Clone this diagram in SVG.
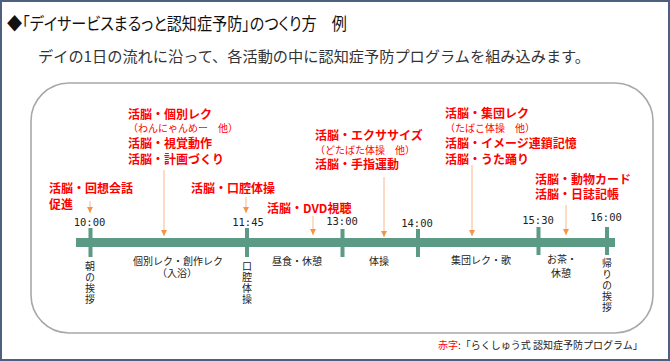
<svg xmlns="http://www.w3.org/2000/svg" width="670" height="361" viewBox="0 0 670 361">
<defs>
<marker id="ah" viewBox="0 0 10 10" refX="10" refY="5" markerWidth="6" markerHeight="6" orient="auto" markerUnits="userSpaceOnUse">
<path d="M0,0 L10,5 L0,10 Z" fill="#f39548"/>
</marker>
<style>
.red{font-family:"Noto Sans CJK JP","Noto Sans",sans-serif;font-size:12px;font-weight:bold;fill:#ff0000}
.reds{font-size:10px;font-weight:normal}
.lbl{font-family:"Noto Sans CJK JP","Noto Sans",sans-serif;font-size:10px;fill:#222222}
.vert{font-family:"Noto Sans CJK JP","Noto Sans",sans-serif;font-size:10px;fill:#222222;writing-mode:vertical-rl;letter-spacing:1px}
.tm{font-family:"DejaVu Sans Mono","Liberation Mono",monospace;font-size:10.5px;fill:#222222;text-anchor:middle}
.arr{stroke:#f7b88a;stroke-width:1;fill:none}
.tick{fill:#5b9a84}
</style>
</defs>
<rect x="0" y="0" width="670" height="361" fill="#ffffff"/>
<rect x="1" y="1" width="668" height="359" fill="none" stroke="#4f5f80" stroke-width="2"/>
<g id="title">
<text x="7" y="30" font-family="'Noto Sans CJK JP','Noto Sans',sans-serif" font-size="17" fill="#111111" style="font-feature-settings:'palt'" textLength="340" lengthAdjust="spacingAndGlyphs">◆「デイサービスまるっと認知症予防」のつくり方　例</text>
<text x="38" y="62" font-family="'Noto Sans CJK JP','Noto Sans',sans-serif" font-size="15" fill="#333333" textLength="552" lengthAdjust="spacingAndGlyphs">デイの1日の流れに沿って、各活動の中に認知症予防プログラムを組み込みます。</text>
</g>
<rect x="31" y="83" width="622" height="250" rx="38" ry="38" fill="none" stroke="#a8a8a8" stroke-width="1.6"/>
<g id="timeline">
<rect x="76" y="238" width="539" height="9" fill="#5b9a84"/>
<rect class="tick" x="88.5" y="228" width="4" height="29"/>
<rect class="tick" x="245" y="228" width="4" height="29"/>
<rect class="tick" x="340.5" y="229" width="4" height="28"/>
<rect class="tick" x="416" y="229" width="4" height="28"/>
<rect class="tick" x="536.5" y="227" width="4" height="28"/>
<rect class="tick" x="605" y="227" width="4" height="28"/>
</g>
<g id="times">
<text class="tm" x="89.5" y="226">10:00</text>
<text class="tm" x="248" y="226">11:45</text>
<text class="tm" x="342" y="225">13:00</text>
<text class="tm" x="417" y="227">14:00</text>
<text class="tm" x="538" y="224">15:30</text>
<text class="tm" x="606" y="221">16:00</text>
</g>
<g id="activities">
<text class="vert" x="90" y="261">朝の挨拶</text>
<text class="lbl" x="178" y="265" text-anchor="middle">個別レク・創作レク<tspan x="177" dy="12">（入浴）</tspan></text>
<text class="vert" x="247" y="261">口腔体操</text>
<text class="lbl" x="297" y="265" text-anchor="middle">昼食・休憩</text>
<text class="lbl" x="379" y="265" text-anchor="middle">体操</text>
<text class="lbl" x="481" y="264" text-anchor="middle">集団レク・歌</text>
<text class="lbl" x="547" y="263">お茶・<tspan x="551" dy="14">休憩</tspan></text>
<text class="vert" x="607" y="258">帰りの挨拶</text>
</g>
<g id="connectors">
<line class="arr" x1="90" y1="201" x2="90" y2="213" marker-end="url(#ah)"/>
<line class="arr" x1="164" y1="170" x2="164" y2="236" marker-end="url(#ah)"/>
<line class="arr" x1="246" y1="197" x2="246" y2="213" marker-end="url(#ah)"/>
<line class="arr" x1="313" y1="216" x2="313" y2="235" marker-end="url(#ah)"/>
<line class="arr" x1="384" y1="177" x2="384" y2="237" marker-end="url(#ah)"/>
<line class="arr" x1="472" y1="165" x2="472" y2="236" marker-end="url(#ah)"/>
<line class="arr" x1="566" y1="205" x2="566" y2="235" marker-end="url(#ah)"/>
</g>
<g id="n-kaiso">
<text class="red" x="49" y="193">活脳・回想会話<tspan x="49" dy="16">促進</tspan></text>
</g>
<g id="n-kobetsu">
<text class="red" x="128" y="119">活脳・個別レク<tspan class="reds" x="128" dy="13">（わんにゃんめー　他）</tspan><tspan x="128" dy="16">活脳・視覚動作</tspan><tspan x="128" dy="16">活脳・計画づくり</tspan></text>
</g>
<g id="n-koku">
<text class="red" x="191" y="193">活脳・口腔体操</text>
</g>
<g id="n-dvd">
<text class="red" x="267" y="213">活脳・DVD視聴</text>
</g>
<g id="n-exercise">
<text class="red" x="315" y="140">活脳・エクササイズ<tspan class="reds" x="315" dy="14">（どたばた体操　他）</tspan><tspan x="315" dy="15">活脳・手指運動</tspan></text>
</g>
<g id="n-shudan">
<text class="red" x="445" y="118">活脳・集団レク<tspan class="reds" x="445" dy="14">（たばこ体操　他）</tspan><tspan x="445" dy="16">活脳・イメージ連鎖記憶</tspan><tspan x="445" dy="16">活脳・うた踊り</tspan></text>
</g>
<g id="n-card">
<text class="red" x="535" y="184">活脳・動物カード<tspan x="535" dy="15">活脳・日誌記帳</tspan></text>
</g>
<g id="legend">
<text x="438" y="349" font-family="'Noto Sans CJK JP','Noto Sans',sans-serif" font-size="10" fill="#222222"><tspan fill="#ff0000">赤字</tspan>:「らくしゅう式 認知症予防プログラム」</text>
</g>
</svg>
